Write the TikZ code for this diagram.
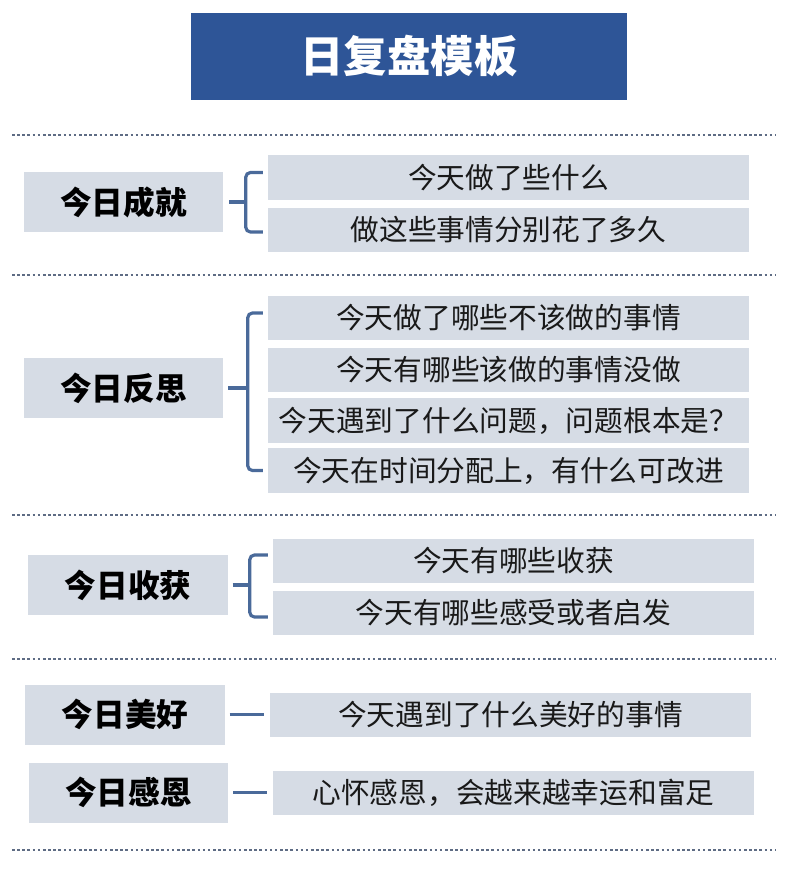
\documentclass[tikz,border=0pt]{standalone}
\usepackage{fontspec}
\usepackage[dvipsnames]{xcolor}
\setmainfont{Noto Sans CJK SC}
\usetikzlibrary{calc}

\definecolor{titleblue}{HTML}{2E5597}
\definecolor{boxgray}{HTML}{D6DCE5}
\definecolor{bracecol}{HTML}{4A6A9A}
\definecolor{dotcol}{HTML}{5E6C84}

\begin{document}
\begin{tikzpicture}[x=0.03cm,y=-0.03cm,
    title node/.style={fill=titleblue,text=white,inner sep=0pt,minimum width=13.08cm,minimum height=2.61cm,font=\fontsize{37}{40}\selectfont\bfseries},
    left node/.style={fill=boxgray,text=black,inner sep=0pt,minimum width=5.97cm,minimum height=1.8cm,font=\fontsize{27}{30}\selectfont\bfseries},
    item node/.style={fill=boxgray,text=black!90,inner sep=0pt,minimum width=14.43cm,minimum height=1.33cm,font=\fontsize{24.5}{28}\selectfont},
    brace/.style={draw=bracecol,line width=2.7pt,rounded corners=4pt},
    sep line/.style={draw=dotcol,line width=2.2pt,dash pattern=on 2.2pt off 2.2pt}]

    \useasboundingbox (0,0) rectangle (793,870);

    \node[title node] (0) at (409,56.5) {日复盘模板};

    % left column
    \node[left node] (1) at (123.5,202) {今日成就};
    \node[left node] (2) at (123.5,388) {今日反思};
    \node[left node] (3) at (128,585) {今日收获};
    \node[left node] (4) at (125,714.5) {今日美好};
    \node[left node] (5) at (128.5,792.5) {今日感恩};

    % right column
    \node[item node] (11) at (508.5,177.5) {今天做了些什么};
    \node[item node] (12) at (508.5,230) {做这些事情分别花了多久};

    \node[item node] (21) at (508.5,318) {今天做了哪些不该做的事情};
    \node[item node] (22) at (508.5,370) {今天有哪些该做的事情没做};
    \node[item node] (23) at (508.5,420.5) {今天遇到了什么问题，问题根本是？};
    \node[item node] (24) at (508.5,470.5) {今天在时间分配上，有什么可改进};

    \node[item node] (31) at (513.5,561) {今天有哪些收获};
    \node[item node] (32) at (513.5,613) {今天有哪些感受或者启发};

    \node[item node] (41) at (510.5,715) {今天遇到了什么美好的事情};
    \node[item node] (51) at (513.5,793) {心怀感恩，会越来越幸运和富足};

    % separators
    \foreach \y in {135,275,515,659,850}
        \draw[sep line] (12,\y) -- (775,\y);

    % braces
    \draw[brace] ($(11.west)+(-5,-5)$) -| ($(12.west)+(-22,2)$) -- ($(12.west)+(-5,2)$);
    \draw[brace] ($(1.east)+(6,0)$) -- ($(1.east -| 11.west)+(-22,0)$);

    \draw[brace] ($(21.west)+(-5,-5)$) -| ($(24.west)+(-20,0)$) -- ($(24.west)+(-5,0)$);
    \draw[brace] ($(2.east)+(5,0)$) -- ($(2.east -| 21.west)+(-20,0)$);

    \draw[brace] ($(31.west)+(-5,-6)$) -| ($(32.west)+(-23,4)$) -- ($(32.west)+(-5,4)$);
    \draw[brace] ($(3.east)+(5,0)$) -- ($(3.east -| 31.west)+(-23,0)$);

    \draw[brace] ($(4.east)+(5,0)$) -- ($(4.east -| 41.west)+(-6,0)$);
    \draw[brace] ($(5.east)+(5,0)$) -- ($(5.east -| 51.west)+(-6,0)$);
\end{tikzpicture}
\end{document}
